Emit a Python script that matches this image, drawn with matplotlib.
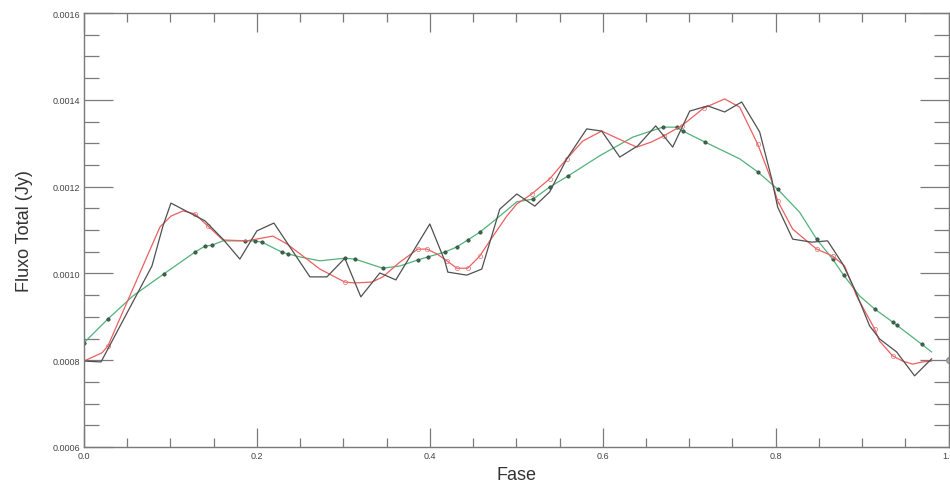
import numpy as np
import matplotlib
matplotlib.use('Agg')
import matplotlib.pyplot as plt
from matplotlib.ticker import MultipleLocator, FormatStrFormatter

plt.rcParams['font.family'] = ['Liberation Sans', 'DejaVu Sans']

# black polyline (phase, flux in 1e-4 Jy)
fase_obs = [0.0, 0.0197, 0.0786, 0.0913, 0.1006, 0.140, 0.1607, 0.1803, 0.200, 0.2197,
            0.2613, 0.281, 0.3017, 0.3202, 0.3422, 0.3607, 0.400, 0.4173, 0.4208, 0.4428,
            0.4601, 0.4809, 0.5006, 0.5214, 0.5387, 0.5584, 0.5815, 0.5988, 0.6197, 0.6405,
            0.6613, 0.6809, 0.7006, 0.7214, 0.741, 0.7607, 0.7815, 0.7954, 0.8023, 0.8197,
            0.8416, 0.8601, 0.8775, 0.8913, 0.9087, 0.9202, 0.9399, 0.9607, 0.9803]
fluxo_obs = [7.98, 7.96, 10.17, 11.09, 11.62, 11.21, 10.79, 10.33, 10.98, 11.16,
             9.92, 9.92, 10.35, 9.46, 10.01, 9.85, 11.14, 10.29, 10.03, 9.96,
             10.10, 11.48, 11.83, 11.55, 11.88, 12.64, 13.33, 13.28, 12.68, 12.94,
             13.40, 12.91, 13.74, 13.86, 13.72, 13.95, 13.26, 12.18, 11.53, 10.79,
             10.72, 10.75, 10.22, 9.64, 8.79, 8.49, 8.19, 7.64, 8.03]

# red smoothed curve
fase_red = [0.0, 0.0208, 0.0277, 0.0879, 0.1006, 0.1145, 0.1283, 0.1434, 0.1607, 0.1884,
            0.2185, 0.2347, 0.2578, 0.2728, 0.3017, 0.3133, 0.333, 0.3457, 0.3653, 0.3861,
            0.3965, 0.4081, 0.4197, 0.4312, 0.4439, 0.4578, 0.4694, 0.489, 0.5006, 0.5179,
            0.5387, 0.5584, 0.5769, 0.5988, 0.6139, 0.6393, 0.6566, 0.6705, 0.6913, 0.7168,
            0.741, 0.7584, 0.7792, 0.7954, 0.8023, 0.8197, 0.8474, 0.8659, 0.8798, 0.8936,
            0.9145, 0.9202, 0.9353, 0.9468, 0.9584, 0.9699, 0.9803]
fluxo_red = [7.98, 8.17, 8.33, 11.07, 11.32, 11.44, 11.37, 11.09, 10.77, 10.75,
             10.86, 10.68, 10.33, 10.10, 9.80, 9.78, 9.80, 9.92, 10.26, 10.56,
             10.56, 10.45, 10.29, 10.12, 10.12, 10.40, 10.75, 11.32, 11.60, 11.83,
             12.18, 12.64, 13.05, 13.28, 13.14, 12.91, 13.03, 13.17, 13.40, 13.81,
             14.02, 13.83, 12.98, 12.13, 11.67, 11.02, 10.56, 10.40, 10.17, 9.48,
             8.72, 8.44, 8.10, 7.98, 7.91, 7.96, 7.98]
marcas_red = [2, 6, 7, 14, 19, 20, 22, 23, 24, 25, 29, 30, 31, 37, 38, 39, 42, 44, 46, 47, 50, 52]

# green smoothed curve
fase_verde = [0.0, 0.0277, 0.0566, 0.0925, 0.1283, 0.140, 0.148, 0.1607, 0.1861, 0.1977,
              0.2058, 0.2289, 0.2358, 0.2497, 0.2728, 0.3017, 0.3133, 0.3457, 0.3653, 0.3861,
              0.3977, 0.4173, 0.4312, 0.4439, 0.4578, 0.4809, 0.5006, 0.5191, 0.5387, 0.5595,
              0.5965, 0.6347, 0.6694, 0.6855, 0.6925, 0.7179, 0.7584, 0.7792, 0.8023, 0.8277,
              0.8474, 0.8659, 0.8786, 0.8971, 0.9145, 0.9353, 0.9399, 0.9688, 0.9803]
fluxo_verde = [8.40, 8.95, 9.48, 9.99, 10.49, 10.63, 10.65, 10.75, 10.75, 10.75,
               10.72, 10.49, 10.45, 10.38, 10.29, 10.35, 10.33, 10.12, 10.17, 10.31,
               10.38, 10.49, 10.61, 10.77, 10.95, 11.32, 11.65, 11.71, 11.99, 12.24,
               12.71, 13.14, 13.37, 13.37, 13.28, 13.03, 12.64, 12.34, 11.94, 11.41,
               10.79, 10.33, 9.96, 9.48, 9.18, 8.88, 8.81, 8.37, 8.19]
marcas_verde = [0, 1, 3, 4, 5, 6, 8, 9, 10, 11, 12, 15, 16, 17, 19, 20, 21, 22, 23, 24,
                27, 28, 29, 32, 33, 34, 35, 37, 38, 40, 41, 42, 44, 45, 46, 47]

fig = plt.figure(figsize=(9.5, 4.85), dpi=100)
ax = fig.add_axes([0.0884, 0.0763, 0.9101, 0.8948])

esc = 1e-4
ax.plot(fase_verde, np.array(fluxo_verde) * esc, color='#52b27a', lw=0.9,
        marker='o', markevery=marcas_verde, ms=2.4, mfc='#3f6a50', mec='#2a4434', mew=0.5)
ax.plot(fase_red, np.array(fluxo_red) * esc, color='#ec5f5f', lw=0.9,
        marker='o', markevery=marcas_red, ms=3.0, mfc='none', mec='#e07070', mew=0.5)
ax.plot(fase_obs, np.array(fluxo_obs) * esc, color='#505050', lw=0.9)
ax.plot([1.0], [0.0008], 'o', ms=4, mfc='#b8b8b8', mec='#909090', clip_on=False)

ax.set_xlim(0, 1)
ax.set_ylim(0.0006, 0.0016)
ax.xaxis.set_major_locator(MultipleLocator(0.2))
ax.xaxis.set_minor_locator(MultipleLocator(0.05))
ax.yaxis.set_major_locator(MultipleLocator(0.0002))
ax.yaxis.set_minor_locator(MultipleLocator(0.00005))
ax.xaxis.set_major_formatter(FormatStrFormatter('%.1f'))
ax.yaxis.set_major_formatter(FormatStrFormatter('%.4f'))

cinza = '#7a7a7a'
for s in ax.spines.values():
    s.set_color(cinza)
    s.set_linewidth(1.0)
ax.tick_params(axis='x', which='major', direction='in', length=13.5, width=0.9,
               color=cinza, top=True, labelsize=6.5, labelcolor='#444444', pad=3)
ax.tick_params(axis='x', which='minor', direction='in', length=6.5, width=0.9,
               color=cinza, top=True)
ax.tick_params(axis='y', which='major', direction='in', length=21, width=0.9,
               color=cinza, right=True, labelsize=6.5, labelcolor='#444444', pad=3)
ax.tick_params(axis='y', which='minor', direction='in', length=10.5, width=0.9,
               color=cinza, right=True)

ax.set_xlabel('Fase', fontsize=13, color='#333333', labelpad=4)
ax.set_ylabel('Fluxo Total (Jy)', fontsize=13, color='#333333', labelpad=14)

fig.savefig('out.png', dpi=100)
